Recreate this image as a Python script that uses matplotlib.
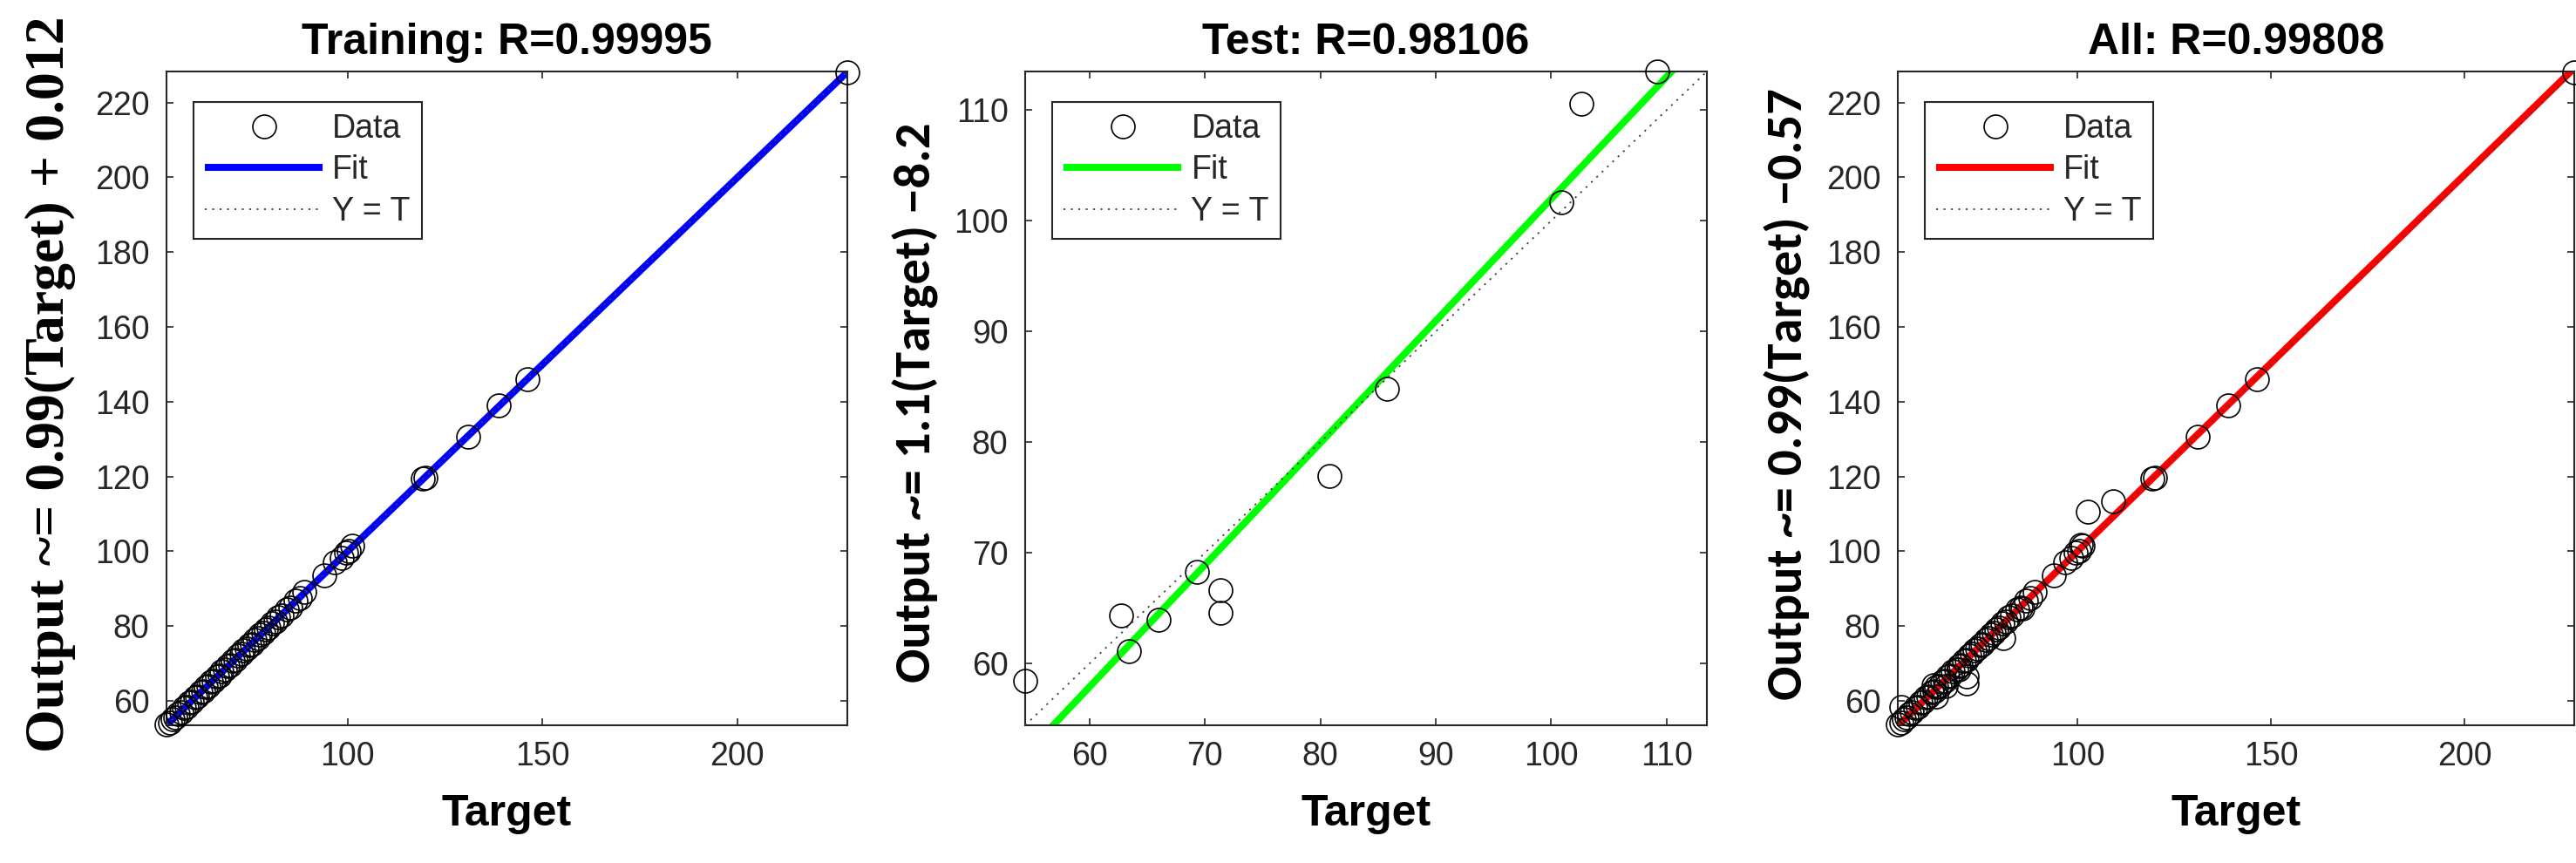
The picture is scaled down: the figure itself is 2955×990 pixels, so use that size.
import numpy as np
import matplotlib
matplotlib.use("Agg")
import matplotlib.pyplot as plt
from matplotlib.lines import Line2D

# values
train_target = [53.5, 54.3, 55.0, 55.8, 56.4, 57.2, 57.9, 58.6, 59.3, 60.1, 60.8, 61.4, 62.2,
                62.9, 63.5, 64.3, 65.0, 65.6, 66.4, 67.1, 67.7, 68.5, 69.2, 69.8, 70.6, 71.2,
                71.9, 72.7, 73.3, 74.1, 74.8, 75.4, 76.2, 76.9, 77.5, 78.3, 79.0, 79.7, 80.5,
                81.4, 82.2, 83.1, 84.3, 85.2, 86.6, 87.8, 88.9, 93.9, 96.8, 98.4, 99.5, 100.3,
                101.2, 119.2, 120.0, 130.9, 138.8, 146.2, 228.3]
train_output = [53.7, 54.1, 55.2, 55.6, 56.6, 57.0, 58.1, 58.4, 59.5, 59.9, 61.0, 61.2, 62.4,
                62.7, 63.7, 64.1, 65.2, 65.4, 66.6, 66.9, 67.9, 68.3, 69.4, 69.6, 70.8, 71.0,
                72.1, 72.5, 73.5, 73.9, 75.0, 75.2, 76.4, 76.7, 77.7, 78.1, 79.2, 79.5, 80.7,
                81.2, 82.4, 82.9, 84.5, 85.0, 86.8, 87.6, 89.1, 93.7, 97.0, 98.2, 99.7, 100.1,
                101.4, 119.4, 119.8, 130.7, 139.0, 146.0, 228.1]
test_target = [54.4, 62.7, 63.4, 66.0, 69.3, 71.3, 71.3, 80.8, 85.8, 100.9, 102.6, 109.2]
test_output = [58.4, 64.3, 61.1, 63.9, 68.3, 66.6, 64.6, 76.9, 84.8, 101.7, 110.6, 113.5]

titles = ["Training: R=0.99995", "Test: R=0.98106", "All: R=0.99808"]
ylabels = ["Output ~= 0.99(Target) + 0.012",
           "Output ~= 1.1(Target) \u22128.2",
           "Output ~= 0.99(Target) \u22120.57"]
fit_colors = ["#0000ff", "#00ff00", "#ff0000"]
wide_xticks = [100, 150, 200]
wide_yticks = [60, 80, 100, 120, 140, 160, 180, 200, 220]
test_ticks = [60, 70, 80, 90, 100, 110]

SANS = ["Liberation Sans", "DejaVu Sans"]
INK = "#262626"
DOTS = (0, (1.2, 3.5))

fig = plt.figure(figsize=(29.55, 9.9), dpi=100)
W, H = 2955.0, 990.0
lefts = [191, 1176, 2177]
widths = [781, 782, 776]
ylab_pos = [(58, 441), (1050, 462), (2050, 452)]
ylab_fonts = [(["Liberation Serif", "DejaVu Serif"], 46),
              (["Carlito", "DejaVu Sans"], 42),
              (["Carlito", "DejaVu Sans"], 42)]

panels = [
    (train_target, train_output, wide_xticks, wide_yticks),
    (test_target, test_output, test_ticks, test_ticks),
    (train_target + test_target, train_output + test_output, wide_xticks, wide_yticks),
]

for i, (t, y, xt, yt) in enumerate(panels):
    t = np.array(t)
    y = np.array(y)
    ax = fig.add_axes([lefts[i] / W, 158 / H, widths[i] / W, 750 / H])
    lo = min(t.min(), y.min())
    hi = max(t.max(), y.max())
    m, b = np.polyfit(t, y, 1)
    xs = np.array([lo, hi])

    ax.plot(xs, m * xs + b, color=fit_colors[i], lw=5.8, solid_capstyle="butt", zorder=2)
    ax.plot(t, y, linestyle="none", marker="o", ms=19.4, mfc="none", mec="black",
            mew=1.2, zorder=3, clip_on=False)
    ax.plot(xs, xs, linestyle=DOTS, color="#404040", lw=1.3, zorder=4)

    ax.set_xlim(lo, hi)
    ax.set_ylim(lo, hi)
    ax.set_xticks(xt)
    ax.set_yticks(yt)
    for s in ax.spines.values():
        s.set_linewidth(1.5)
        s.set_color(INK)
    ax.tick_params(direction="in", top=True, right=True, width=1.2, length=5.8, color=INK,
                   labelcolor=INK, labelsize=27)
    ax.tick_params(axis="x", pad=13)
    ax.tick_params(axis="y", pad=14)
    for lab in ax.get_xticklabels() + ax.get_yticklabels():
        lab.set_family(SANS)

    ax.set_title(titles[i], fontsize=36, fontweight="bold", family=SANS, pad=14.4)
    ax.set_xlabel("Target", fontsize=36, fontweight="bold", family=SANS)
    ax.xaxis.set_label_coords(0.5, -0.105)

    fam, size = ylab_fonts[i]
    fig.text(ylab_pos[i][0] / W, 1 - ylab_pos[i][1] / H, ylabels[i], rotation=90,
             ha="center", va="center", fontsize=size, fontweight="bold", family=fam)

    handles = [
        Line2D([], [], linestyle="none", marker="o", ms=19.4, mfc="none", mec="black", mew=1.2),
        Line2D([], [], color=fit_colors[i], lw=5.8, solid_capstyle="butt"),
        Line2D([], [], linestyle=DOTS, color="#404040", lw=1.3),
    ]
    leg = ax.legend(handles, ["Data", "Fit", "Y = T"], loc="upper left",
                    bbox_to_anchor=(31 / widths[i], 1 - 35 / 750), borderaxespad=0,
                    fancybox=False, framealpha=1, edgecolor=INK, handlelength=3.6,
                    handletextpad=0.3, borderpad=0.35, labelspacing=0.3,
                    prop={"family": SANS, "size": 27})
    leg.get_frame().set_linewidth(1.5)
    for txt in leg.get_texts():
        txt.set_color(INK)

fig.savefig("out.png", dpi=100)
